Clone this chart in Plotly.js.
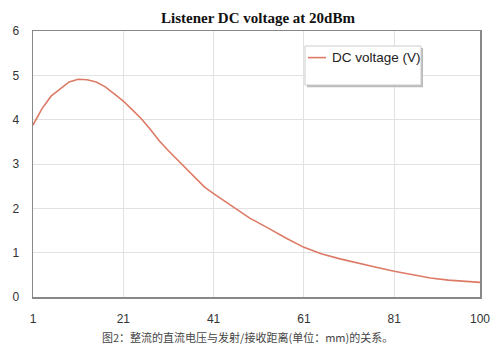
<!DOCTYPE html>
<html><head><meta charset="utf-8">
<script src="https://cdn.plot.ly/plotly-3.0.1.min.js"></script>
<style>html,body{margin:0;padding:0;background:#fff}#c{width:500px;height:360px}</style>
</head><body><div id="c"></div>
<script>
const distance = [1,3,5,7,9,11,13,15,17,19,21,23,25,27,29,31,33,35,37,39,41,45,49,53,57,61,65,69,73,77,81,85,89,93,97,100];
const voltage = [3.88,4.25,4.53,4.70,4.85,4.91,4.90,4.85,4.74,4.58,4.42,4.22,4.02,3.78,3.52,3.30,3.10,2.90,2.68,2.48,2.33,2.06,1.78,1.56,1.33,1.12,0.97,0.86,0.76,0.67,0.58,0.50,0.43,0.38,0.35,0.33];
const xTicks = [1,21,41,61,81,100];
const yTicks = [0,1,2,3,4,5,6];
const seriesName = 'DC voltage (V)';
const titleText = 'Listener DC voltage at 20dBm';
const captionText = '图2：整流的直流电压与发射/接收距离(单位：mm)的关系。';
const lineColor = '#dd7a66';

const trace = {x: distance, y: voltage, type:'scatter', mode:'lines', name: seriesName,
  line:{color:lineColor, width:1.6}, showlegend:false};

const layout = {
  width:500, height:360,
  margin:{l:33, r:20, t:31, b:63},
  paper_bgcolor:'#fff', plot_bgcolor:'#fff',
  title:{text:'<b>'+titleText+'</b>', font:{family:'Liberation Serif, Times New Roman, serif', size:15, color:'#111'}, x:0.516, xanchor:'center', y:0.95, yanchor:'middle'},
  xaxis:{range:[1,100], tickvals:xTicks, ticktext:xTicks.map(String), showgrid:true, gridcolor:'#e2e2e2', gridwidth:1,
    zeroline:false, showline:true, linecolor:'#888', linewidth:1.5, mirror:true, ticks:'', ticklabelstandoff:10,
    tickfont:{family:'Liberation Sans, Arial, sans-serif', size:12, color:'#333'}},
  yaxis:{range:[0,6], tickvals:yTicks, showgrid:true, gridcolor:'#e2e2e2', gridwidth:1,
    zeroline:false, showline:true, linecolor:'#888', linewidth:1.5, mirror:true, ticks:'', ticklabelstandoff:10,
    tickfont:{family:'Liberation Sans, Arial, sans-serif', size:12, color:'#333'}},
  shapes:[
    {type:'rect', xref:'paper', yref:'paper', x0:0.613, x1:0.8725, y0:0.789, y1:0.936, fillcolor:'#bbb', line:{width:0}, layer:'above'},
    {type:'rect', xref:'paper', yref:'paper', x0:0.6085, x1:0.868, y0:0.797, y1:0.9436, fillcolor:'#fff', line:{color:'#ccc', width:1}, layer:'above'},
    {type:'line', xref:'paper', yref:'paper', x0:0.615, x1:0.6555, y0:0.900, y1:0.900, line:{color:lineColor, width:1.6}, layer:'above'}
  ],
  annotations:[
    {text:seriesName, xref:'paper', yref:'paper', x:0.6644, y:0.900, xanchor:'left', yanchor:'middle', showarrow:false,
      font:{family:'Liberation Sans, Arial, sans-serif', size:13.5, color:'#222'}},
    {text:captionText, xref:'paper', yref:'paper', x:0.48, y:-0.114, xanchor:'center', yanchor:'top', showarrow:false,
    font:{family:'Noto Sans CJK SC, sans-serif', size:11, color:'#444'}}]
};
Plotly.newPlot('c',[trace],layout,{displayModeBar:false, staticPlot:true});
</script></body></html>
